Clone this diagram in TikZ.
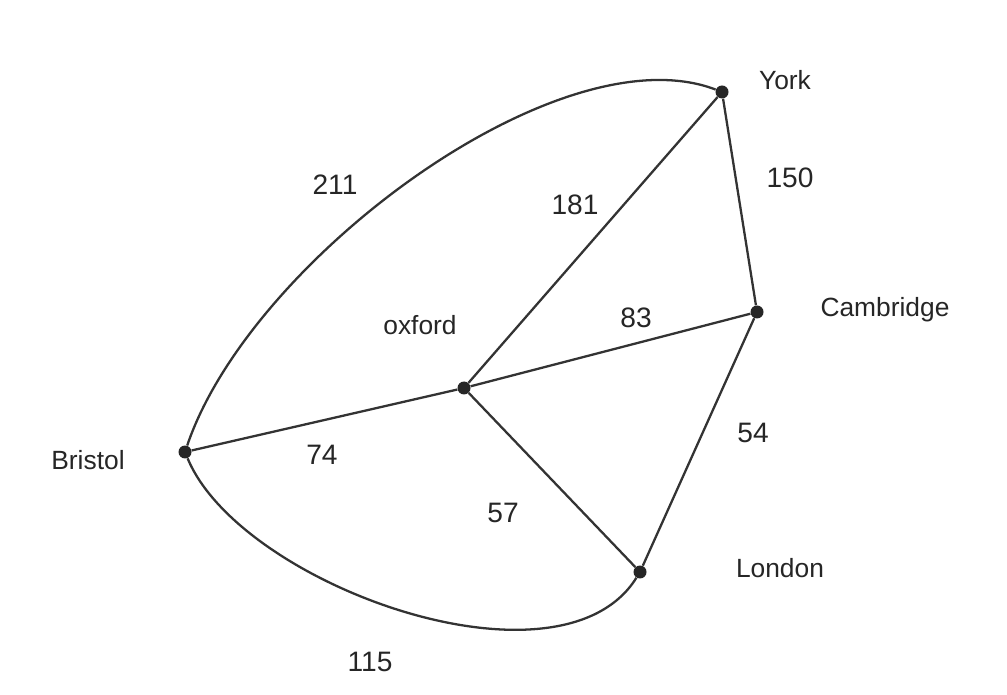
\documentclass[tikz,border=0pt]{standalone}
\usepackage{fontspec}
\setmainfont{Liberation Sans}
\begin{document}
\begin{tikzpicture}[x=0.02cm,y=-0.02cm,
  city/.style={circle,fill=black!85,inner sep=0pt,minimum size=0.26cm},
  edge/.style={draw=black!80,line width=1.3pt},
  lbl/.style={font=\fontsize{15}{17}\selectfont,text=black!85},
  wt/.style={font=\fontsize{16}{18}\selectfont,text=black!85}]
\fill[white] (0,0) rectangle (1007,695);
\useasboundingbox (0,0) rectangle (1007,695);
\node[city] (york) at (722,92) {};
\node[city] (cam) at (757,312) {};
\node[city] (ox) at (464,388) {};
\node[city] (bri) at (185,452) {};
\node[city] (lon) at (640,572) {};
\node[lbl] (tyork) at (785,80) {York};
\node[lbl] (tcam) at (885,310) {Cambridge};
\node[lbl] (tox) at (420,325) {oxford};
\node[lbl] (tbri) at (88,460) {Bristol};
\node[lbl] (tlon) at (780,568) {London};
\draw[edge] (bri) .. controls (250,260) and (560,30) .. (york);
\draw[edge] (bri) .. controls (240,585) and (560,700) .. (lon);
\draw[edge] (york) -- (cam);
\draw[edge] (york) -- (ox);
\draw[edge] (cam) -- (ox);
\draw[edge] (ox) -- (bri);
\draw[edge] (ox) -- (lon);
\draw[edge] (cam) -- (lon);
\node[wt] (w211) at (335,185) {211};
\node[wt] (w181) at (575,205) {181};
\node[wt] (w150) at (790,178) {150};
\node[wt] (w83) at (636,318) {83};
\node[wt] (w74) at (322,455) {74};
\node[wt] (w54) at (753,433) {54};
\node[wt] (w57) at (503,513) {57};
\node[wt] (w115) at (370,662) {115};
\end{tikzpicture}
\end{document}
